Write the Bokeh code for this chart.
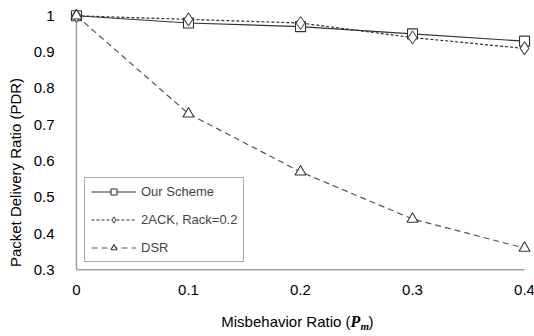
from bokeh.plotting import figure
from bokeh.models import Range1d, FixedTicker, Label, Legend
from bokeh.core.properties import value
from bokeh.embed import file_html
from bokeh.resources import INLINE

# ---- data ----
x_vals = [0, 0.1, 0.2, 0.3, 0.4]
our_scheme = [1.0, 0.98, 0.97, 0.95, 0.93]
two_ack = [1.0, 0.99, 0.98, 0.94, 0.91]
dsr = [1.0, 0.73, 0.57, 0.44, 0.36]

x_ticks = [0, 0.1, 0.2, 0.3, 0.4]
x_tick_labels = ["0", "0.1", "0.2", "0.3", "0.4"]
y_ticks = [0.3, 0.4, 0.5, 0.6, 0.7, 0.8, 0.9, 1.0]
y_tick_labels = ["0.3", "0.4", "0.5", "0.6", "0.7", "0.8", "0.9", "1"]

series_names = ["Our Scheme", "2ACK, Rack=0.2", "DSR"]

FONT = "Liberation Sans"

# frame runs to the bottom of the canvas so the x tick labels / x title can be drawn inside it
p = figure(width=534, height=336, output_backend="svg", toolbar_location=None,
           x_range=Range1d(-0.008, 0.408), y_range=Range1d(0.1164, 1.02),
           min_border_left=67, min_border_right=1, min_border_top=8, min_border_bottom=0)
p.outline_line_color = None
p.xgrid.visible = False
p.ygrid.visible = False
p.xaxis.visible = False

yax = p.yaxis[0]
yax.axis_line_color = None
yax.major_tick_line_color = None
yax.minor_tick_line_color = None
yax.major_label_text_font = FONT
yax.major_label_text_font_size = "15px"
yax.major_label_text_color = "#000000"
yax.ticker = FixedTicker(ticks=y_ticks)
yax.major_label_overrides = {t: l for t, l in zip(y_ticks, y_tick_labels)}
yax.major_label_standoff = 7
yax.axis_label = "Packet Delivery Ratio (PDR)"
yax.axis_label_text_font = FONT
yax.axis_label_text_font_size = "15px"
yax.axis_label_text_font_style = "normal"
yax.axis_label_text_color = "#000000"
yax.axis_label_standoff = 7

# axis lines (gray) spanning the tick range
axis_gray = "#A0A0A0"
p.segment(x0=[x_ticks[0], x_ticks[0]], y0=[y_ticks[0], y_ticks[0]],
          x1=[x_ticks[-1], x_ticks[0]], y1=[y_ticks[0], y_ticks[-1]],
          line_color=axis_gray, line_width=1.5)

# x tick labels drawn as text below the x axis line
p.text(x=x_ticks, y=[y_ticks[0]] * len(x_ticks), text=x_tick_labels,
       text_font=value(FONT), text_font_size="15px", text_color="#000000",
       text_align="center", text_baseline="middle", y_offset=20)

# series
dark = "#333333"
r1l = p.line(x_vals, our_scheme, line_color=dark, line_width=1.2)
r1m = p.scatter(x_vals, our_scheme, marker="square", size=10, fill_color="white",
                line_color=dark, line_width=1.1)
r2l = p.line(x_vals, two_ack, line_color=dark, line_width=1.2, line_dash="3 2")
r2m = p.scatter(x_vals, two_ack, marker="diamond", size=13, fill_color="white",
                line_color="#555555", line_width=1.1)
r3l = p.line(x_vals, dsr, line_color="#555555", line_width=1.2, line_dash="6 4")
r3m = p.scatter(x_vals, dsr, marker="triangle", size=11, fill_color="white",
                line_color=dark, line_width=1.1)

# legend (location relative to frame bottom-left, frame bottom = canvas bottom)
legend = Legend(items=[(series_names[0], [r1l, r1m]),
                       (series_names[1], [r2l, r2m]),
                       (series_names[2], [r3l, r3m])],
                location=(17, 74), padding=6, spacing=13,
                label_height=15, glyph_height=15, glyph_width=45, label_standoff=5,
                label_text_font=FONT, label_text_font_size="13px",
                border_line_color="#555555", border_line_width=1,
                background_fill_color="white", background_fill_alpha=1.0,
                margin=0)
p.add_layout(legend, "center")

# x axis title with bold-italic P_m (screen units, relative to frame bottom-left)
lab_x = 283
lab_y = 15
common = dict(x_units="screen", y_units="screen", text_baseline="middle", text_color="#000000")
p.add_layout(Label(x=lab_x, y=lab_y, text="Misbehavior Ratio (", text_align="right",
                   text_font=FONT, text_font_size="15px", **common))
p.add_layout(Label(x=lab_x, y=lab_y, text="P", text_align="left",
                   text_font="Liberation Serif", text_font_size="16px",
                   text_font_style="bold italic", **common))
p.add_layout(Label(x=lab_x + 10, y=lab_y - 4, text="m", text_align="left",
                   text_font="Liberation Serif", text_font_size="11px",
                   text_font_style="bold italic", **common))
p.add_layout(Label(x=lab_x + 18, y=lab_y, text=")", text_align="left",
                   text_font=FONT, text_font_size="15px", **common))

open("out.html", "w").write(file_html(p, INLINE))
